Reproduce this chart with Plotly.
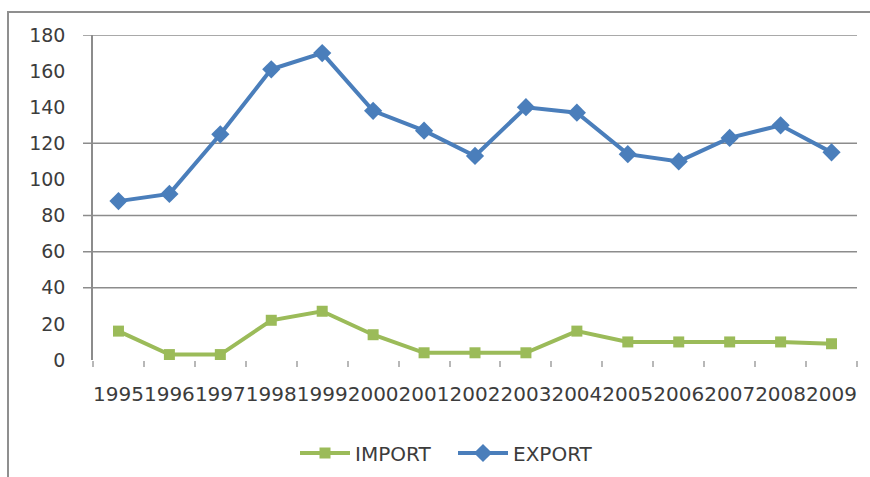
import plotly.graph_objects as go

# Annual values, 1995-2009
years = ["1995", "1996", "1997", "1998", "1999", "2000", "2001", "2002",
         "2003", "2004", "2005", "2006", "2007", "2008", "2009"]
imports = [16, 3, 3, 22, 27, 14, 4, 4, 4, 16, 10, 10, 10, 10, 9]
exports = [88, 92, 125, 161, 170, 138, 127, 113, 140, 137, 114, 110, 123, 130, 115]

y_ticks = [0, 20, 40, 60, 80, 100, 120, 140, 160, 180]
grid_levels = [180, 120, 80, 60, 40]

W, H = 870, 477
L, R, T, B = 93, 13, 35, 117
plot_w = W - L - R
plot_h = H - T - B

TEXT = "#3c3c3c"
GRID = "#8c8c8c"
FONT = "DejaVu Sans"

fig = go.Figure()
fig.add_trace(go.Scatter(
    x=years, y=imports, name="IMPORT", mode="lines+markers",
    line=dict(color="#9BBB59", width=4),
    marker=dict(symbol="square", size=11, color="#9BBB59"),
))
fig.add_trace(go.Scatter(
    x=years, y=exports, name="EXPORT", mode="lines+markers",
    line=dict(color="#4A7EBB", width=4),
    marker=dict(symbol="diamond", size=14, color="#4A7EBB"),
))

shapes = []
# horizontal grid lines with their small outside ticks
for lv in grid_levels:
    shapes.append(dict(type="line", xref="paper", yref="y",
                       x0=-10 / plot_w, x1=1, y0=lv, y1=lv,
                       line=dict(color=GRID, width=1.5), layer="below"))
# outer chart frame
shapes.append(dict(type="rect", xref="paper", yref="paper",
                   x0=(8 - L) / plot_w, x1=1.1,
                   y0=-0.5, y1=(H - B - 12) / plot_h,
                   line=dict(color="#8f8f8f", width=2), layer="below"))

fig.update_layout(
    width=W, height=H,
    margin=dict(l=L, r=R, t=T, b=B),
    paper_bgcolor="white", plot_bgcolor="white",
    font=dict(family=FONT, color=TEXT),
    shapes=shapes,
    showlegend=True,
    legend=dict(orientation="h", xref="container", yref="container",
                x=453 / W, xanchor="center", y=1 - 453 / H, yanchor="middle",
                font=dict(size=20, color=TEXT, family=FONT),
                itemwidth=50, entrywidth=93, entrywidthmode="pixels",
                traceorder="normal", bgcolor="rgba(0,0,0,0)"),
)
fig.update_xaxes(
    type="category", range=[-0.5, len(years) - 0.5],
    showgrid=False, showline=False, zeroline=False,
    ticks="outside", tickson="boundaries", ticklen=6, tickcolor="#b8b8b8",
    tickwidth=1.5, ticklabelstandoff=20, tickangle=0,
    tickfont=dict(size=20, color=TEXT, family=FONT),
)
fig.update_yaxes(
    range=[0, 180], tickvals=y_ticks, showgrid=False, zeroline=False,
    showline=True, linecolor=GRID, linewidth=1.5, ticks="",
    ticklabelstandoff=22,
    tickfont=dict(size=19, color=TEXT, family=FONT),
)

fig.write_html("out.html")
